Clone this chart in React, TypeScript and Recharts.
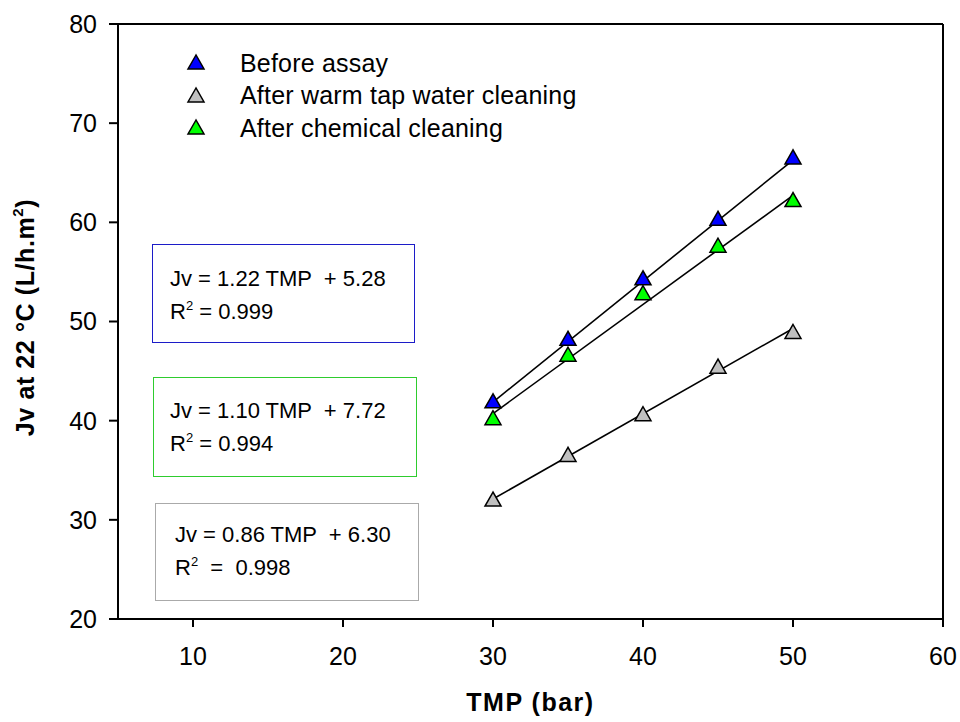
import React from 'react';
import { ComposedChart, Scatter, Line, XAxis, YAxis, ReferenceLine, Legend } from 'recharts';

// TMP (bar) and permeate flux Jv at 22 °C (L/h.m2)
const tmp = [30, 35, 40, 45, 50];
const beforeAssay = [42.0, 48.3, 54.4, 60.4, 66.6];
const afterWarmWater = [32.1, 36.6, 40.7, 45.5, 49.0];
const afterChemical = [40.3, 46.7, 52.9, 57.7, 62.3];

const xTicks = [10, 20, 30, 40, 50, 60];
const yTicks = [20, 30, 40, 50, 60, 70, 80];

// linear fits printed in the boxes
const fitSlopes = [1.22, 1.10, 0.86];
const fitIntercepts = [5.28, 7.72, 6.30];
const fitR2 = ['0.999', '0.994', '0.998'];

const FONT = '"Liberation Sans", Arial, sans-serif';

const series = [
  { name: 'Before assay', values: beforeAssay, color: '#0000ff', fit: 0 },
  { name: 'After warm tap water cleaning', values: afterWarmWater, color: '#c0c0c0', fit: 2 },
  { name: 'After chemical cleaning', values: afterChemical, color: '#00ff00', fit: 1 },
];

const toPoints = (values: number[]) => tmp.map((x, i) => ({ x, y: values[i] }));

const fitLine = (k: number) =>
  [tmp[0], tmp[tmp.length - 1]].map(x => ({ x, y: fitSlopes[k] * x + fitIntercepts[k] }));

const triangle = (fill: string) => (props: any) => {
  const { cx, cy } = props;
  return (
    <polygon
      points={`${cx},${cy - 7} ${cx - 8},${cy + 7} ${cx + 8},${cy + 7}`}
      fill={fill}
      stroke="#000"
      strokeWidth={1.5}
    />
  );
};

const LegendBox = () => (
  <div style={{ fontFamily: FONT, fontSize: 25, color: '#000' }}>
    {series.map(s => (
      <div key={s.name} style={{ display: 'flex', alignItems: 'center', height: 32.5 }}>
        <svg width={60} height={20} style={{ flex: 'none' }}>
          <polygon points="16,2 8,16 24,16" fill={s.color} stroke="#000" strokeWidth={1.5} />
        </svg>
        <span style={{ letterSpacing: 0.2 }}>{s.name}</span>
      </div>
    ))}
  </div>
);

const YTitle = (props: any) => {
  const { viewBox } = props;
  const x = viewBox.x + 34;
  const y = viewBox.y + viewBox.height / 2 - 4;
  return (
    <text
      x={x}
      y={y}
      transform={`rotate(-90, ${x}, ${y})`}
      textAnchor="middle"
      fontFamily={FONT}
      fontWeight="bold"
      fontSize={25}
      letterSpacing={0.6}
      fill="#000"
    >
      Jv at 22 °C (L/h.m<tspan dy={-11} fontSize={15}>2</tspan><tspan dy={11}>)</tspan>
    </text>
  );
};

const XTitle = (props: any) => {
  const { viewBox } = props;
  return (
    <text
      x={viewBox.x + viewBox.width / 2}
      y={711}
      textAnchor="middle"
      fontFamily={FONT}
      fontWeight="bold"
      fontSize={25}
      letterSpacing={1.5}
      fill="#000"
    >
      TMP (bar)
    </text>
  );
};

const boxes = [
  { fit: 0, border: '#1c1cc8', left: 152, top: 244, width: 263, height: 99, pad: 17, indent: 17, r2Gap: '' },
  { fit: 1, border: '#2ecc2e', left: 153, top: 377, width: 264, height: 100, pad: 16, indent: 16, r2Gap: '' },
  { fit: 2, border: '#aaaaaa', left: 155, top: 503, width: 264, height: 98, pad: 14, indent: 19, r2Gap: '\u00a0' },
];

const App = () => {
  return (
    <div style={{ position: 'absolute', left: 0, top: 0, width: 960, height: 722, background: '#fff' }}>
      <ComposedChart
        width={960}
        height={722}
        margin={{ top: 24, right: 17, bottom: 0, left: 0 }}
        style={{ fontFamily: FONT }}
      >
        <XAxis
          type="number"
          dataKey="x"
          domain={[5, 60]}
          ticks={xTicks}
          height={103}
          axisLine={{ stroke: '#000', strokeWidth: 2 }}
          tickLine={{ stroke: '#000', strokeWidth: 2 }}
          tickSize={8}
          tickMargin={20}
          tick={{ fill: '#000', fontSize: 25, fontFamily: FONT }}
          label={<XTitle />}
        />
        <YAxis
          type="number"
          dataKey="y"
          domain={[20, 80]}
          ticks={yTicks}
          width={118}
          axisLine={{ stroke: '#000', strokeWidth: 2 }}
          tickLine={{ stroke: '#000', strokeWidth: 2 }}
          tickSize={9}
          tickMargin={12}
          tick={{ fill: '#000', fontSize: 25, fontFamily: FONT }}
          label={<YTitle />}
        />
        <ReferenceLine y={80} stroke="#000" strokeWidth={2} />
        <ReferenceLine x={60} stroke="#000" strokeWidth={2} />
        {series.map(s => (
          <Line
            key={`fit-${s.name}`}
            data={fitLine(s.fit)}
            dataKey="y"
            type="linear"
            stroke="#000"
            strokeWidth={1.6}
            dot={false}
            activeDot={false}
            legendType="none"
            isAnimationActive={false}
          />
        ))}
        {series.map(s => (
          <Scatter
            key={s.name}
            name={s.name}
            data={toPoints(s.values)}
            dataKey="y"
            shape={triangle(s.color)}
            isAnimationActive={false}
          />
        ))}
        <Legend
          layout="vertical"
          align="center"
          verticalAlign="middle"
          content={<LegendBox />}
          wrapperStyle={{ left: 180, top: 47, width: 480, height: 100 }}
        />
      </ComposedChart>
      {boxes.map(b => (
        <div
          key={b.fit}
          style={{
            position: 'absolute',
            left: b.left,
            top: b.top,
            width: b.width,
            height: b.height,
            boxSizing: 'border-box',
            border: `1.5px solid ${b.border}`,
            paddingTop: b.pad,
            paddingLeft: b.indent,
            fontFamily: FONT,
            fontSize: 22,
            lineHeight: '33px',
            color: '#000',
            whiteSpace: 'pre',
          }}
        >
          <div>{`Jv = ${fitSlopes[b.fit].toFixed(2)} TMP  + ${fitIntercepts[b.fit].toFixed(2)}`}</div>
          <div>
            R<span style={{ fontSize: 13, position: 'relative', top: -9 }}>2</span>
            {`${b.r2Gap} = ${b.r2Gap}${fitR2[b.fit]}`}
          </div>
        </div>
      ))}
    </div>
  );
};

export default App;
